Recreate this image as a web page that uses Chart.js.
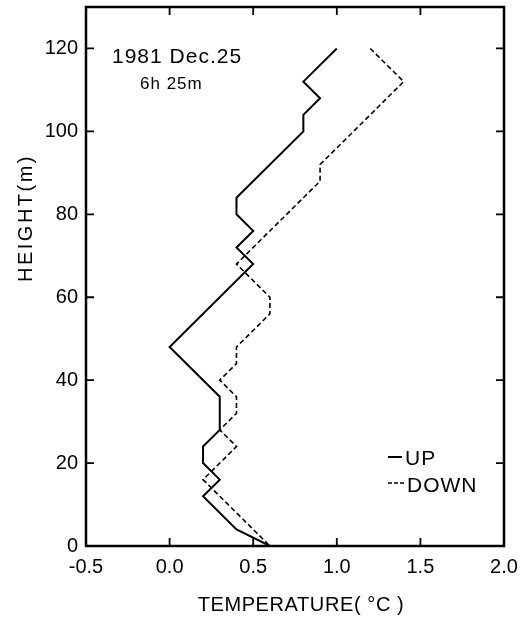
<!DOCTYPE html>
<html>
<head>
<meta charset="utf-8">
<script src="https://cdn.jsdelivr.net/npm/chart.js@4/dist/chart.umd.min.js"></script>
<style>
  html, body { margin: 0; padding: 0; background: #fff; }
  #wrap { width: 526px; height: 618px; }
</style>
</head>
<body>
<div id="wrap"><canvas id="lineCanvas" width="526" height="618"></canvas></div>
<script>
// profile: temperature (deg C) against height (m)
var upTemp = [1.0, 0.8, 0.9, 0.8, 0.8, 0.4, 0.4, 0.5, 0.4, 0.5, 0.0, 0.3, 0.3, 0.2, 0.2, 0.3, 0.2, 0.4, 0.6];
var upHeight = [120, 112, 108, 104, 100, 84, 80, 76, 72, 68, 48, 36, 28, 24, 20, 16, 12, 4, 0];
var downTemp = [1.2, 1.4, 0.9, 0.9, 0.4, 0.6, 0.6, 0.4, 0.4, 0.3, 0.4, 0.4, 0.3, 0.4, 0.2, 0.3, 0.6];
var downHeight = [120, 112, 92, 88, 68, 60, 56, 48, 44, 40, 36, 32, 28, 24, 16, 12, 0];

var xTicks = [-0.5, 0.0, 0.5, 1.0, 1.5, 2.0];
var yTicks = [0, 20, 40, 60, 80, 100, 120];

var titleText = "1981 Dec.25";
var timeText = "6h 25m";
var seriesNames = ["UP", "DOWN"];
var xTitle = "TEMPERATURE( \u00b0C )";
var yTitle = "HEIGHT(m)";

var FONT = "'Liberation Sans', Arial, sans-serif";

function toPoints(xs, ys) {
    var pts = [];
    for (var i = 0; i < xs.length; i++) {
        pts.push({ x: xs[i], y: ys[i] });
    }
    return pts;
}

// frame, inward ticks, legend and captions
var framePlugin = {
    id: 'framePlugin',
    afterDraw: function (chart) {
        var ctx = chart.ctx;
        var a = chart.chartArea;
        var xs = chart.scales.x;
        var ys = chart.scales.y;
        ctx.save();
        ctx.strokeStyle = '#000';
        ctx.lineWidth = 2.5;
        ctx.strokeRect(a.left, a.top, a.right - a.left, a.bottom - a.top);

        ctx.lineWidth = 1.8;
        ctx.beginPath();
        xTicks.forEach(function (v) {
            var px = xs.getPixelForValue(v);
            if (px <= a.left + 1 || px >= a.right - 1) return;
            ctx.moveTo(px, a.bottom); ctx.lineTo(px, a.bottom - 8);
            ctx.moveTo(px, a.top); ctx.lineTo(px, a.top + 8);
        });
        yTicks.forEach(function (v) {
            var py = ys.getPixelForValue(v);
            if (py >= a.bottom - 1 || py <= a.top + 1) return;
            ctx.moveTo(a.left, py); ctx.lineTo(a.left + 8, py);
            ctx.moveTo(a.right, py); ctx.lineTo(a.right - 8, py);
        });
        ctx.stroke();

        ctx.fillStyle = '#000';
        ctx.textBaseline = 'alphabetic';
        ctx.textAlign = 'left';
        ctx.font = '21px ' + FONT;
        ctx.letterSpacing = '1px';
        ctx.fillText(titleText, 112, 63);
        ctx.font = '17px ' + FONT;
        ctx.letterSpacing = '1px';
        ctx.fillText(timeText, 140, 89);

        // legend
        ctx.letterSpacing = '1px';
        ctx.font = '21px ' + FONT;
        ctx.lineWidth = 2;
        ctx.setLineDash([]);
        ctx.beginPath(); ctx.moveTo(388, 457); ctx.lineTo(402, 457); ctx.stroke();
        ctx.fillText(seriesNames[0], 405, 465);
        ctx.lineWidth = 1.5;
        ctx.setLineDash([4, 2]);
        ctx.beginPath(); ctx.moveTo(388, 483); ctx.lineTo(405, 483); ctx.stroke();
        ctx.setLineDash([]);
        ctx.fillText(seriesNames[1], 407, 492);

        // axis titles
        ctx.textAlign = 'center';
        ctx.textBaseline = 'middle';
        ctx.font = '20px ' + FONT;
        ctx.letterSpacing = '0.6px';
        ctx.fillText(xTitle, 301, 605);
        ctx.save();
        ctx.translate(26, 218);
        ctx.rotate(-Math.PI / 2);
        ctx.letterSpacing = '2.5px';
        ctx.fillText(yTitle, 0, 0);
        ctx.restore();
        ctx.restore();
    }
};

var lineChart = new Chart(document.getElementById('lineCanvas'), {
    type: 'scatter',
    data: {
        datasets: [
            {
                label: seriesNames[0],
                data: toPoints(upTemp, upHeight),
                showLine: true,
                borderColor: '#000',
                backgroundColor: '#000',
                borderWidth: 2,
                pointRadius: 0,
                lineTension: 0,
                borderJoinStyle: 'miter',
                fill: false
            },
            {
                label: seriesNames[1],
                data: toPoints(downTemp, downHeight),
                showLine: true,
                borderColor: '#000',
                backgroundColor: '#000',
                borderWidth: 1.6,
                borderDash: [5, 3],
                pointRadius: 0,
                lineTension: 0,
                fill: false
            }
        ]
    },
    options: {
        responsive: false,
        animation: false,
        layout: { padding: { left: 0, right: 22, top: 7, bottom: 0 } },
        plugins: {
            legend: { display: false },
            tooltip: { enabled: false }
        },
        scales: {
            x: {
                type: 'linear',
                min: -0.5,
                max: 2.0,
                afterBuildTicks: function (scale) {
                    scale.ticks = xTicks.map(function (v) { return { value: v }; });
                },
                afterFit: function (scale) {
                    scale.height = 72;
                    scale.paddingLeft = 0;
                    scale.paddingRight = 0;
                },
                grid: { display: false, drawTicks: false },
                border: { display: false },
                ticks: {
                    color: '#000',
                    padding: 9,
                    maxRotation: 0,
                    font: { family: FONT, size: 20 },
                    callback: function (v) { return Number(v).toFixed(1); }
                }
            },
            y: {
                type: 'linear',
                min: 0,
                max: 130,
                afterBuildTicks: function (scale) {
                    scale.ticks = yTicks.map(function (v) { return { value: v }; });
                },
                afterFit: function (scale) {
                    scale.width = 86;
                    scale.paddingTop = 0;
                    scale.paddingBottom = 0;
                },
                grid: { display: false, drawTicks: false },
                border: { display: false },
                ticks: {
                    color: '#000',
                    padding: 8,
                    font: { family: FONT, size: 20 }
                }
            }
        }
    },
    plugins: [framePlugin]
});
</script>
</body>
</html>
